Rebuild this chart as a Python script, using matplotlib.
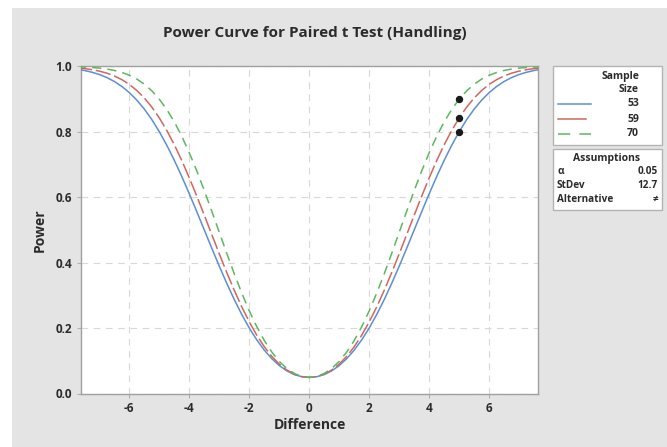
import matplotlib
matplotlib.use("Agg")
import matplotlib.pyplot as plt
from matplotlib.lines import Line2D
from matplotlib.patches import Rectangle

# ---------------- data ----------------
difference = [-7.75, -7.5, -7.25, -7.0, -6.75, -6.5, -6.25, -6.0, -5.75, -5.5, -5.25, -5.0,
              -4.75, -4.5, -4.25, -4.0, -3.75, -3.5, -3.25, -3.0, -2.75, -2.5, -2.25, -2.0,
              -1.75, -1.5, -1.25, -1.0, -0.75, -0.5, -0.25, 0.0,
              0.25, 0.5, 0.75, 1.0, 1.25, 1.5, 1.75, 2.0, 2.25, 2.5, 2.75, 3.0, 3.25, 3.5,
              3.75, 4.0, 4.25, 4.5, 4.75, 5.0, 5.25, 5.5, 5.75, 6.0, 6.25, 6.5, 6.75, 7.0,
              7.25, 7.5, 7.75]

power_53 = [0.9916, 0.9878, 0.9825, 0.9755, 0.9662, 0.9542, 0.9390, 0.9201, 0.8971, 0.8696,
            0.8375, 0.8005, 0.7589, 0.7130, 0.6633, 0.6106, 0.5558, 0.5000, 0.4440, 0.3893,
            0.3367, 0.2871, 0.2415, 0.2002, 0.1640, 0.1327, 0.1066, 0.0855, 0.0693, 0.0579,
            0.0513, 0.0493,
            0.0513, 0.0579, 0.0693, 0.0855, 0.1066, 0.1327, 0.1640, 0.2002, 0.2415, 0.2871,
            0.3367, 0.3893, 0.4440, 0.5000, 0.5558, 0.6106, 0.6633, 0.7130, 0.7589, 0.8005,
            0.8375, 0.8696, 0.8971, 0.9201, 0.9390, 0.9542, 0.9662, 0.9755, 0.9825, 0.9878,
            0.9916]

power_59 = [0.9959, 0.9936, 0.9904, 0.9859, 0.9796, 0.9711, 0.9598, 0.9452, 0.9266, 0.9036,
            0.8757, 0.8426, 0.8041, 0.7605, 0.7120, 0.6593, 0.6033, 0.5451, 0.4858, 0.4270,
            0.3697, 0.3153, 0.2647, 0.2189, 0.1782, 0.1431, 0.1137, 0.0900, 0.0719, 0.0591,
            0.0515, 0.0491,
            0.0515, 0.0591, 0.0719, 0.0900, 0.1137, 0.1431, 0.1782, 0.2189, 0.2647, 0.3153,
            0.3697, 0.4270, 0.4858, 0.5451, 0.6033, 0.6593, 0.7120, 0.7605, 0.8041, 0.8426,
            0.8757, 0.9036, 0.9266, 0.9452, 0.9598, 0.9711, 0.9796, 0.9859, 0.9904, 0.9936,
            0.9959]

power_70 = [0.9989, 0.9982, 0.9969, 0.9951, 0.9922, 0.9879, 0.9818, 0.9732, 0.9615, 0.9458,
            0.9255, 0.8999, 0.8683, 0.8305, 0.7863, 0.7360, 0.6804, 0.6204, 0.5573, 0.4927,
            0.4283, 0.3658, 0.3069, 0.2526, 0.2042, 0.1621, 0.1268, 0.0983, 0.0766, 0.0613,
            0.0522, 0.0492,
            0.0522, 0.0613, 0.0766, 0.0983, 0.1268, 0.1621, 0.2042, 0.2526, 0.3069, 0.3658,
            0.4283, 0.4927, 0.5573, 0.6204, 0.6804, 0.7360, 0.7863, 0.8305, 0.8683, 0.8999,
            0.9255, 0.9458, 0.9615, 0.9732, 0.9818, 0.9879, 0.9922, 0.9951, 0.9969, 0.9982,
            0.9989]

target_difference = [5.0, 5.0, 5.0]
target_power = [0.8005, 0.8426, 0.8999]

sample_sizes = ["53", "59", "70"]
x_ticks = [-6, -4, -2, 0, 2, 4, 6]
y_ticks = [0.0, 0.2, 0.4, 0.6, 0.8, 1.0]
assumption_names = ["\u03b1", "StDev", "Alternative"]
assumption_values = ["0.05", "12.7", "\u2260"]

title = "Power Curve for Paired t Test (Handling)"
x_label = "Difference"
y_label = "Power"

# ---------------- style ----------------
plt.rcParams['font.family'] = ['Open Sans', 'DejaVu Sans']
BG = "#e4e4e4"
TXT = "#2b2b2b"
colors = ["#5b8fd3", "#d0675f", "#5cb85f"]
dash_styles = ["-", (0, (10, 2.5)), (0, (6, 4))]
legend_dash = ["-", "-", (0, (8, 6))]

W, H = 667, 447
fig = plt.figure(figsize=(W / 100, H / 100), dpi=100, facecolor="white")
bg = Rectangle((12 / W, 0), 1 - 12 / W, 1 - 8 / H, transform=fig.transFigure,
               facecolor=BG, edgecolor="none", zorder=-5)
fig.patches.append(bg)

left, right, top, bottom = 80.5, 538.0, 66.5, 393.5
ax = fig.add_axes([left / W, 1 - bottom / H, (right - left) / W, (bottom - top) / H])
ax.set_zorder(1)
ax.set_facecolor("white")

for p, c, ls in zip([power_53, power_59, power_70], colors, dash_styles):
    ax.plot(difference, p, color=c, lw=1.1, linestyle=ls, zorder=3)
ax.plot(target_difference, target_power, 'o', color="#1a1a1a", markersize=4.3, zorder=4)

ax.set_xlim(-7.63, 7.63)
ax.set_ylim(0.0, 1.0)
ax.set_xticks(x_ticks)
ax.set_xticklabels([str(t) for t in x_ticks])
ax.set_yticks(y_ticks)
ax.set_yticklabels([f"{t:.1f}" for t in y_ticks])
ax.grid(True, color="#d8d8d8", linestyle=(0, (6, 5)), lw=0.8, zorder=1)
for s in ax.spines.values():
    s.set_color("#a0a0a0")
    s.set_linewidth(1.0)
ax.tick_params(axis='both', length=3, width=0.8, color="#b0b0b0", labelsize=8.5, labelcolor=TXT, pad=3)
for lab in ax.get_xticklabels() + ax.get_yticklabels():
    lab.set_fontweight("bold")

fig.text(315 / W, 1 - 33 / H, title, ha="center", va="center", fontsize=11,
         fontweight="bold", color=TXT)
fig.text(310 / W, 1 - 425 / H, x_label, ha="center", va="center", fontsize=10,
         fontweight="bold", color=TXT)
fig.text(40 / W, 1 - 230 / H, y_label, ha="center", va="center", fontsize=10,
         fontweight="bold", color=TXT, rotation=90)

# ---------------- legend boxes ----------------
def fx(px):
    return px / W

def fy(py):
    return 1 - py / H

fig.patches.append(Rectangle((fx(553), fy(145)), 109 / W, 79 / H, transform=fig.transFigure,
                             facecolor="white", edgecolor="#b4b4b4", lw=1.0, zorder=2))
fig.patches.append(Rectangle((fx(553), fy(210)), 109 / W, 61 / H, transform=fig.transFigure,
                             facecolor="white", edgecolor="#b4b4b4", lw=1.0, zorder=2))

lfs = 7.5
fig.text(fx(639), fy(76), "Sample", ha="right", va="center", fontsize=lfs,
         fontweight="bold", color=TXT)
fig.text(fx(639), fy(90), "Size", ha="right", va="center", fontsize=lfs,
         fontweight="bold", color=TXT)
for i, (lab, c, ls) in enumerate(zip(sample_sizes, colors, legend_dash)):
    yy = 104 + 15 * i
    x_end = 586 if i == 1 else 591
    fig.lines.append(Line2D([fx(558), fx(x_end)], [fy(yy), fy(yy)], transform=fig.transFigure,
                            color=c, lw=1.1, linestyle=ls, zorder=3))
    fig.text(fx(639), fy(yy), lab, ha="right", va="center", fontsize=lfs,
             fontweight="bold", color=TXT)

fig.text(fx(607), fy(158), "Assumptions", ha="center", va="center", fontsize=lfs,
         fontweight="bold", color=TXT)
for i, (n, v) in enumerate(zip(assumption_names, assumption_values)):
    yy = 172 + 13.5 * i
    fig.text(fx(557), fy(yy), n, ha="left", va="center", fontsize=lfs - 0.3,
             fontweight="bold", color=TXT)
    fig.text(fx(658), fy(yy), v, ha="right", va="center", fontsize=lfs - 0.3,
             fontweight="bold", color=TXT)

fig.savefig("out.png", dpi=100, facecolor=fig.get_facecolor())
